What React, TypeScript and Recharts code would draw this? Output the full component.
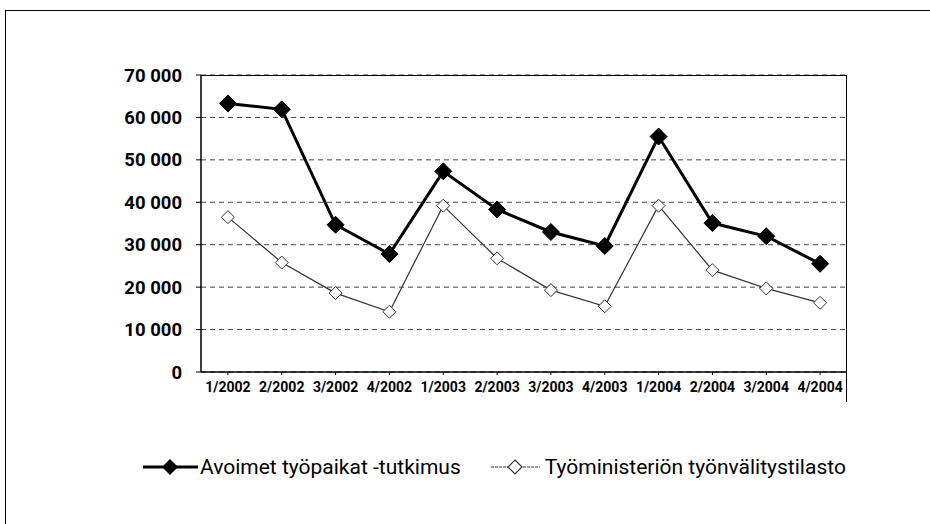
import React from "react";
import { LineChart, Line, XAxis, YAxis, CartesianGrid } from "recharts";

const categories = ["1/2002", "2/2002", "3/2002", "4/2002", "1/2003", "2/2003", "3/2003", "4/2003", "1/2004", "2/2004", "3/2004", "4/2004"];
const avoimet = [63300, 61900, 34700, 27800, 47300, 38300, 33000, 29700, 55500, 35100, 32000, 25500];
const tyoministerio = [36500, 25800, 18600, 14200, 39200, 26800, 19300, 15500, 39200, 24000, 19700, 16300];
const yTicks = [0, 10000, 20000, 30000, 40000, 50000, 60000, 70000];
const seriesNames = ["Avoimet työpaikat -tutkimus", "Työministeriön työnvälitystilasto"];

const data = categories.map((c, i) => ({ cat: c, a: avoimet[i], t: tyoministerio[i] }));

const FONT = "Roboto, 'DejaVu Sans', sans-serif";

const fmt = (v: number) => (v === 0 ? "0" : String(v).replace(/\B(?=(\d{3})+(?!\d))/g, " "));

const FilledDiamond = (props: any) => {
  const { cx, cy } = props;
  if (cx == null || cy == null) return null;
  const r = 8.5;
  return <path d={`M${cx},${cy - r}L${cx + r},${cy}L${cx},${cy + r}L${cx - r},${cy}Z`} fill="#000" stroke="#000" strokeWidth={1} />;
};

const HollowDiamond = (props: any) => {
  const { cx, cy } = props;
  if (cx == null || cy == null) return null;
  const r = 6.5;
  return <path d={`M${cx},${cy - r}L${cx + r},${cy}L${cx},${cy + r}L${cx - r},${cy}Z`} fill="#fff" stroke="#333" strokeWidth={1} />;
};

export default function App() {
  return (
    <div style={{ position: "absolute", left: 0, top: 0, width: 930, height: 524, background: "#fff", overflow: "hidden" }}>
      <div style={{ position: "absolute", left: 5, top: 10, width: 940, height: 530, borderLeft: "1.5px solid #000", borderTop: "1.5px solid #000" }} />
      <div style={{ position: "absolute", left: 0, top: 0 }}>
        <LineChart width={930} height={524} data={data} margin={{ top: 75, right: 83, bottom: 122, left: 0 }}>
          <CartesianGrid vertical={false} stroke="#444" strokeDasharray="5 4" strokeWidth={1} />
          <XAxis
            dataKey="cat"
            scale="band"
            interval={0}
            tickLine={{ stroke: "#000" }}
            axisLine={{ stroke: "#000", strokeWidth: 1.5 }}
            tick={{ fill: "#000", fontSize: 14, fontFamily: FONT, fontWeight: 700 }}
            tickSize={3}
            tickMargin={7}
            height={30}
          />
          <YAxis
            domain={[0, 70000]}
            ticks={yTicks}
            tickFormatter={fmt}
            width={201}
            tickLine={{ stroke: "#000" }}
            tickSize={5}
            tickMargin={14}
            axisLine={{ stroke: "#000", strokeWidth: 1.5 }}
            tick={{ fill: "#000", fontSize: 18.5, fontFamily: FONT, fontWeight: 700 }}
          />
          <Line
            type="linear"
            dataKey="t"
            name={seriesNames[1]}
            stroke="#333"
            strokeWidth={1.2}
            dot={<HollowDiamond />}
            isAnimationActive={false}
          />
          <Line
            type="linear"
            dataKey="a"
            name={seriesNames[0]}
            stroke="#000"
            strokeWidth={3}
            dot={<FilledDiamond />}
            isAnimationActive={false}
          />
        </LineChart>
      </div>
      <div style={{ position: "absolute", left: 201, top: 75, width: 646, height: 327, boxSizing: "border-box", borderTop: "1.5px solid #000", borderRight: "1.5px solid #000", pointerEvents: "none" }} />
      <div style={{ position: "absolute", left: 143, top: 453, height: 28, display: "flex", alignItems: "center", fontFamily: FONT, fontSize: 21, color: "#000", whiteSpace: "nowrap" }}>
        <svg width={55} height={20} style={{ marginRight: 2, flex: "none" }}>
          <line x1={0} y1={10} x2={55} y2={10} stroke="#000" strokeWidth={3} />
          <path d="M27,2L35,10L27,18L19,10Z" fill="#000" />
        </svg>
        <span style={{ marginRight: 30 }}>{seriesNames[0]}</span>
        <svg width={49} height={20} style={{ marginRight: 5, flex: "none" }}>
          <line x1={0} y1={10} x2={49} y2={10} stroke="#333" strokeWidth={1.2} strokeDasharray="3 1" />
          <path d="M24,3L31,10L24,17L17,10Z" fill="#fff" stroke="#333" strokeWidth={1.2} />
        </svg>
        <span>{seriesNames[1]}</span>
      </div>
    </div>
  );
}
